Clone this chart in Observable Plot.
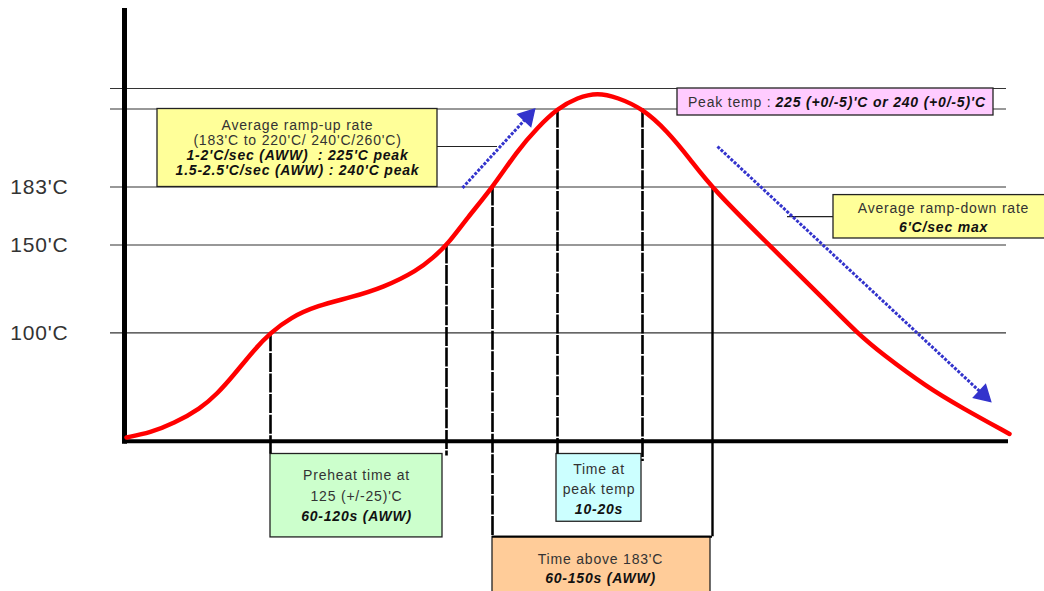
<!DOCTYPE html>
<html>
<head>
<meta charset="utf-8">
<script src="https://cdn.jsdelivr.net/npm/d3@7"></script>
<script src="https://cdn.jsdelivr.net/npm/@observablehq/plot@0.6"></script>
<style>
  body { margin: 0; background: #fff; }
  #chart svg text { letter-spacing: 0.8px; }
</style>
</head>
<body>
<div id="chart"></div>
<script>
// ---- Reflow profile curve (time units, temperature in °C) ----
const curveTime = [0.8, 10.4, 19.6, 30.4, 37.2, 43.6, 51.6, 58.4, 66.4, 77.2, 90.4, 103.6, 117.2, 123.6, 129.2, 137.2, 147.2, 157.2, 165.2, 173.2, 181.2, 189.2, 197.2, 207.2, 217.2, 226.4, 234.8, 258.8, 280, 293.2, 302.8, 321.2, 334.8, 354];
const curveTemp = [27.6, 31, 37.2, 47.6, 58, 70.5, 87.8, 100, 108.7, 115.5, 120.1, 125.8, 135.5, 143, 150.3, 165.6, 182.7, 202.7, 215, 225.4, 233.4, 237.1, 233.4, 225.4, 213.0, 197.7, 182.7, 148.6, 118.8, 99.6, 85.7, 62.2, 48.3, 30];

// ---- Reference temperatures ----
const refTemps = [100, 150, 183, 225, 240];
const tickTemps = [100, 150, 183];
const tickLabels = ["100'C", "150'C", "183'C"];

// ---- Vertical time markers (dashed) ----
const markerTime = [58.4, 128.8, 147.2, 173.2, 207.2];
const markerTop = [100, 150, 183, 225, 225];
const markerBottom = [16.5, 15.1, -38.5, 16.5, 11.6];
// solid end of "time above 183" bracket
const bracketTime = [147.2, 235.2];
const bracketLevel = -38.5;

// ---- Ramp arrows ----
const arrowStartTime = [135.2, 237.2];
const arrowStartTemp = [182.5, 204.8];
const arrowEndTime = [161.3, 343.5];
const arrowEndTemp = [220.9, 57.2];

// ---- Annotation boxes (time / temperature extents) ----
const boxNames = ["rampUp", "peak", "rampDown", "preheat", "peakTime", "above"];
const boxX1 = [13.2, 221.2, 283.6, 58.4, 172.8, 147.2];
const boxX2 = [125.2, 347.6, 371.2, 127.2, 206.8, 234.4];
const boxY1 = [183, 221.5, 153.7, 16.5, 16.5, -38.5];
const boxY2 = [225, 240, 178.4, -38.9, -28.5, -95];
const boxFill = ["#ffff99", "#ffccff", "#ffff99", "#ccffcc", "#ccffff", "#ffcc99"];

// connectors from boxes to arrows
const connTime1 = [125.2, 265.2];
const connTime2 = [149.2, 283.6];
const connTemp = [204.8, 166.2];

// ---- Annotation text ----
const plainText = ["Average ramp-up rate", "(183'C to 220'C/ 240'C/260'C)", "Average ramp-down rate", "Preheat time at", "125 (+/-25)'C", "Time at", "peak temp", "Time above 183'C"];
const plainX = [69.2, 69.2, 327.6, 92.8, 92.8, 189.8, 189.8, 190.4];
const plainY = [216.1, 208.0, 170.8, 2.0, -11.9, 6.1, -7.0, -53.4];

const boldText = ["1-2'C/sec (AWW)  : 225'C peak", "1.5-2.5'C/sec (AWW) : 240'C peak", "6'C/sec max", "60-120s (AWW)", "10-20s", "60-150s (AWW)"];
const boldX = [69.2, 69.2, 327.6, 92.8, 189.8, 190.4];
const boldY = [200.0, 191.9, 160.0, -25.0, -20.1, -65.9];

const peakLabel = "Peak temp :";
const peakValue = "225 (+0/-5)'C or 240 (+0/-5)'C";
const peakLabelX = 258.8, peakValueX = 260.4, peakTextY = 229.5;

// ---- Build ----
const curve = curveTime.map((t, i) => ({t, T: curveTemp[i]}));
const markers = markerTime.map((t, i) => ({t, top: markerTop[i], bottom: markerBottom[i]}));
const arrows = arrowStartTime.map((t, i) => ({x1: t, y1: arrowStartTemp[i], x2: arrowEndTime[i], y2: arrowEndTemp[i]}));
const boxes = boxNames.map((n, i) => ({n, x1: boxX1[i], x2: boxX2[i], y1: boxY1[i], y2: boxY2[i], fill: boxFill[i]}));
const conns = connTime1.map((t, i) => ({x1: t, x2: connTime2[i], y: connTemp[i]}));
const plain = plainText.map((s, i) => ({s, x: plainX[i], y: plainY[i]}));
const bold = boldText.map((s, i) => ({s, x: boldX[i], y: boldY[i]}));

const chart = Plot.plot({
  width: 1044,
  height: 591,
  marginLeft: 124,
  marginRight: 36,
  marginTop: 0,
  marginBottom: 0,
  style: {fontFamily: "'Liberation Sans', Arial, sans-serif", background: "#fff"},
  x: {domain: [0, 353.6], axis: null},
  y: {
    type: "linear",
    domain: [-95, 25, 100, 150, 183, 225, 240, 285],
    range: [621.4, 440.7, 332.3, 244.5, 186.5, 108.5, 88, 8],
    axis: null
  },
  marks: [
    // reference temperature lines
    Plot.ruleY(refTemps, {y: d => d, x1: -5.6, x2: 352.8, stroke: "#333", strokeWidth: 1.2}),
    // annotation boxes
    Plot.rect(boxes, {x1: "x1", x2: "x2", y1: "y1", y2: "y2", fill: "fill", stroke: "#222", strokeWidth: 1.3}),
    // connectors
    Plot.ruleY(conns, {y: "y", x1: "x1", x2: "x2", stroke: "#222", strokeWidth: 1.2}),
    // dashed time markers
    Plot.ruleX(markers, {x: "t", y1: "top", y2: "bottom", stroke: "#000", strokeWidth: 2.6, strokeDasharray: "19,1.6"}),
    // solid right edge of bracket and bracket top
    Plot.ruleX([bracketTime[1]], {x: d => d, y1: 183, y2: bracketLevel, stroke: "#000", strokeWidth: 2.4}),
    Plot.ruleY([bracketLevel], {y: d => d, x1: bracketTime[0], x2: bracketTime[1], stroke: "#000", strokeWidth: 2}),
    // axes lines
    Plot.ruleX([0], {x: d => d, y1: 23, y2: 285, stroke: "#000", strokeWidth: 5}),
    Plot.ruleY([25], {y: d => d, x1: 0, x2: 353.6, stroke: "#000", strokeWidth: 4}),
    // y tick labels
    Plot.axisY({ticks: tickTemps, tickFormat: d => tickLabels[tickTemps.indexOf(d)], tickSize: 0, tickPadding: 56, fontSize: 21, color: "#333", label: null}),
    // profile curve
    Plot.line(curve, {x: "t", y: "T", stroke: "#ff0000", strokeWidth: 4.5, curve: "basis"}),
    // ramp arrows
    Plot.link(arrows, {x1: "x1", y1: "y1", x2: "x2", y2: "y2", stroke: "#3333cc", strokeWidth: 3, strokeDasharray: "3,1.5"}),
    Plot.dot(arrows, {x: "x2", y: "y2", symbol: "triangle", r: 6.5, fill: "#3333cc", stroke: "#3333cc", rotate: (d, i) => i === 0 ? 42.7 : 133}),
    // annotation text
    Plot.text(plain, {x: "x", y: "y", text: "s", fontSize: 14, fill: "#333"}),
    Plot.text(bold, {x: "x", y: "y", text: "s", fontSize: 14, fill: "#111", fontWeight: "bold", fontStyle: "italic"}),
    Plot.text([peakLabel], {x: peakLabelX, y: peakTextY, text: d => d, fontSize: 14, fill: "#333", textAnchor: "end"}),
    Plot.text([peakValue], {x: peakValueX, y: peakTextY, text: d => d, fontSize: 14, fill: "#111", fontWeight: "bold", fontStyle: "italic", textAnchor: "start"})
  ]
});
document.getElementById("chart").appendChild(chart);
</script>
</body>
</html>
